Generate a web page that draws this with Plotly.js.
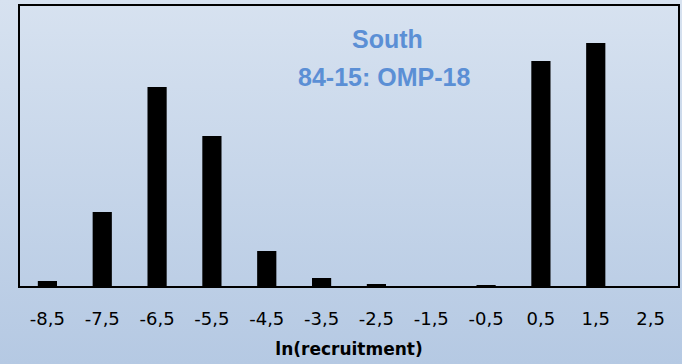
<!DOCTYPE html>
<html>
<head>
<meta charset="utf-8">
<script src="https://cdn.plot.ly/plotly-3.0.1.min.js"></script>
<style>
  html, body { margin: 0; padding: 0; }
  body { width: 682px; height: 364px; background: linear-gradient(to bottom, #d7e2f0 0%, #b5c9e3 100%); overflow: hidden; }
  #chart { width: 682px; height: 364px; }
</style>
</head>
<body>
<div id="chart"></div>
<script>
const categories = ["-8,5", "-7,5", "-6,5", "-5,5", "-4,5", "-3,5", "-2,5", "-1,5", "-0,5", "0,5", "1,5", "2,5"];
const frequencies = [5, 74, 199, 150, 35, 8, 2, 0, 1, 225, 243, 0];
const titleLines = ["South", "84-15: OMP-18"];
const xTitle = "ln(recruitment)";

const trace = {
  type: "bar",
  x: categories,
  y: frequencies,
  marker: { color: "#000000", line: { width: 0 } },
  hoverinfo: "x+y"
};

const layout = {
  width: 682,
  height: 364,
  margin: { l: 20, r: 4, t: 6, b: 78 },
  paper_bgcolor: "rgba(0,0,0,0)",
  plot_bgcolor: "rgba(0,0,0,0)",
  bargap: 0.65,
  showlegend: false,
  xaxis: {
    type: "category",
    showline: true, mirror: true, linecolor: "#000000", linewidth: 2,
    showgrid: false, zeroline: false,
    ticks: "", ticklabelstandoff: 15,
    tickfont: { family: "DejaVu Sans", size: 18, color: "#000000" },
    title: { text: xTitle, standoff: 16, font: { family: "DejaVu Sans", size: 17, color: "#000000", weight: "bold" } }
  },
  yaxis: {
    range: [0, 280],
    showline: true, mirror: true, linecolor: "#000000", linewidth: 2,
    showgrid: false, zeroline: false, showticklabels: false, ticks: ""
  },
  annotations: [
    { xref: "paper", yref: "paper", x: (387 - 20) / 658, y: (286 - 39) / 280, text: "<b>" + titleLines[0] + "</b>", showarrow: false,
      xanchor: "center", yanchor: "middle", font: { family: "Liberation Sans", size: 25, color: "#5b8fd5" } },
    { xref: "paper", yref: "paper", x: (384 - 20) / 658, y: (286 - 77) / 280, text: "<b>" + titleLines[1] + "</b>", showarrow: false,
      xanchor: "center", yanchor: "middle", font: { family: "Liberation Sans", size: 25, color: "#5b8fd5" } }
  ]
};

Plotly.newPlot("chart", [trace], layout, { displayModeBar: false, staticPlot: true });
</script>
</body>
</html>
